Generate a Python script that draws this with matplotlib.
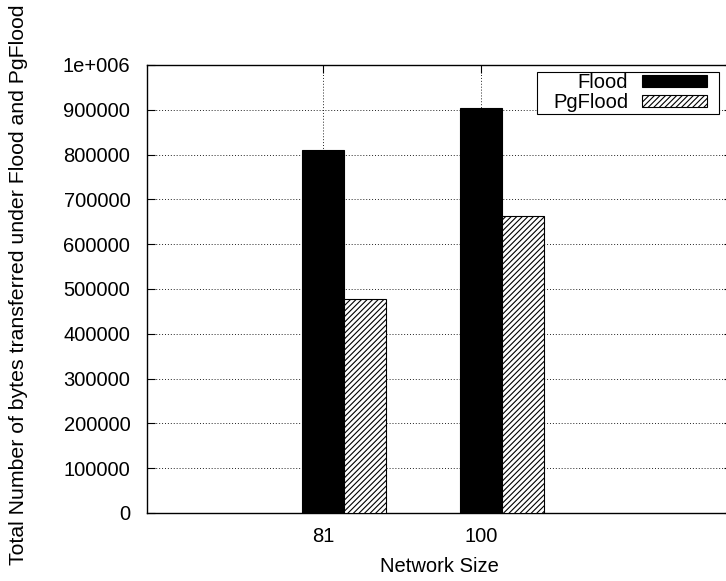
import numpy as np
import matplotlib.pyplot as plt
from matplotlib.patches import Rectangle
from matplotlib.ticker import FuncFormatter

plt.rcParams['font.family'] = ['Liberation Sans', 'DejaVu Sans']
plt.rcParams['hatch.linewidth'] = 0.8

# data
sizes = ['81', '100']
flood = [810000, 903000]
pgflood = [478000, 664000]

fig = plt.figure(figsize=(7.26, 5.81), dpi=100)
ax = fig.add_axes([147/726, (581-513)/581, (732-147)/726, (513-65)/581])

x = np.arange(len(sizes))
w = 0.266
ax.bar(x, flood, w, color='black', edgecolor='black', linewidth=0.8,
       label='Flood', zorder=3)
ax.bar(x + w, pgflood, w, color='white', edgecolor='black', linewidth=0.8,
       hatch='//////', label='PgFlood', zorder=3)

ax.set_xlim(-1.114, 2.59)
ax.set_ylim(0, 1000000)
ax.set_xticks(x)
ax.set_xticklabels(sizes)
ax.set_yticks(np.arange(0, 1000001, 100000))
ax.yaxis.set_major_formatter(FuncFormatter(
    lambda v, p: '1e+006' if v >= 1e6 else f'{int(v)}'))

ax.grid(True, linestyle=(0, (1, 2)), color='#222222', linewidth=0.7, zorder=0)
ax.tick_params(direction='in', length=6, width=0.8, labelsize=14.5,
               top=True, right=True)
ax.tick_params(axis='y', pad=12)
ax.tick_params(axis='x', pad=10)
for s in ax.spines.values():
    s.set_linewidth(1.0)
ax.spines['right'].set_visible(False)

ax.set_xlabel('Network Size', fontsize=14.5, labelpad=8)
ax.set_ylabel('Total Number of bytes transferred under Flood and PgFlood',
              fontsize=15.3, va='center')
ax.yaxis.set_label_coords(-0.2205, 0.509)

# key box drawn separately so it can be wider than it is tall
ax.add_patch(Rectangle((0.667, 0.891), 0.311, 0.093, transform=ax.transAxes,
                       facecolor='white', edgecolor='black', linewidth=0.8,
                       zorder=4))
leg = ax.legend(loc='upper right', bbox_to_anchor=(0.957, 0.982),
                markerfirst=False, fontsize=14.5, frameon=False,
                handlelength=3.2, handleheight=0.6, borderpad=0,
                labelspacing=0.05, handletextpad=0.7, borderaxespad=0)
leg.set_zorder(5)
for t in leg.get_texts():
    t.set_ha('right')

fig.savefig('out.png', dpi=100)
